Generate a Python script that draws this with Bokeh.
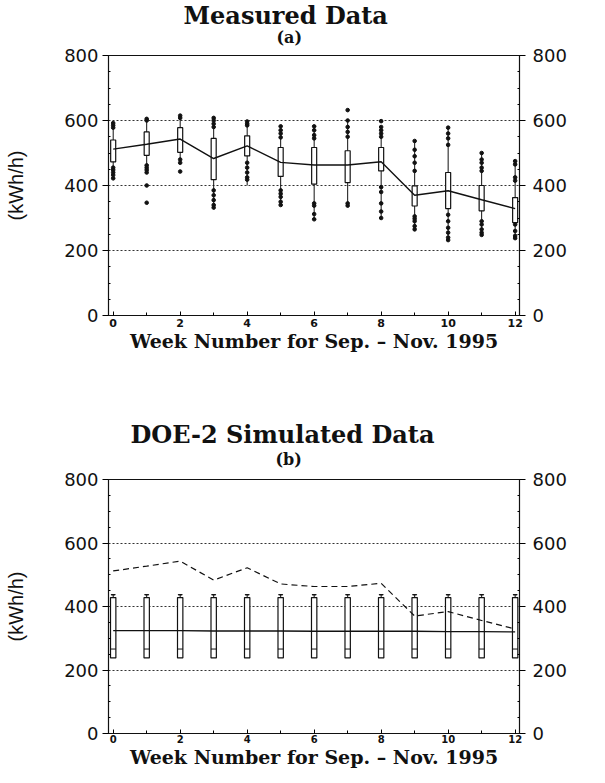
from bokeh.plotting import figure
from bokeh.models import Range1d, LinearAxis, FixedTicker, Title
from bokeh.layouts import column
from bokeh.embed import file_html
from bokeh.resources import INLINE

# ---------------- data ----------------
weeks = [0, 1, 2, 3, 4, 5, 6, 7, 8, 9, 10, 11, 12]

# measured hourly loads (kWh/h) per week
meas_median = [512, 527, 543, 483, 522, 471, 463, 463, 473, 370, 384, 356, 329]
meas_q1 = [473, 493, 502, 418, 491, 428, 404, 409, 445, 337, 329, 322, 286]
meas_q3 = [540, 565, 578, 545, 553, 517, 517, 507, 517, 399, 440, 400, 363]
meas_low = [430, 445, 466, 335, 400, 345, 300, 340, 300, 265, 235, 250, 240]
meas_high = [590, 605, 612, 605, 595, 580, 580, 600, 580, 535, 575, 500, 475]

out_week = ([0] * 8 + [1] * 8 + [2] * 5 + [3] * 9 + [4] * 8 + [5] * 9 + [6] * 8
            + [7] * 7 + [8] * 10 + [9] * 10 + [10] * 10 + [11] * 10 + [12] * 8)
out_val = [592, 585, 578, 455, 448, 440, 432, 422,
           605, 600, 462, 455, 448, 440, 400, 347,
           615, 608, 480, 470, 443,
           608, 600, 590, 580, 385, 370, 355, 340, 332,
           597, 590, 585, 470, 455, 440, 425, 418,
           582, 570, 560, 548, 385, 375, 365, 350, 340,
           582, 570, 555, 545, 345, 338, 312, 296,
           632, 600, 580, 565, 550, 345, 338,
           598, 580, 570, 560, 550, 395, 380, 345, 320, 300,
           537, 510, 490, 470, 445, 305, 298, 290, 275, 265,
           578, 560, 545, 525, 310, 290, 270, 255, 240, 232,
           500, 480, 470, 455, 445, 290, 280, 265, 255, 248,
           475, 465, 425, 415, 280, 260, 245, 238]

# DOE-2 simulated loads (kWh/h) per week
sim_median = [324, 324, 324, 323, 323, 323, 322, 322, 322, 322, 321, 321, 320]
sim_low = [238, 238, 238, 238, 238, 238, 238, 238, 238, 238, 238, 238, 238]
sim_inner = [266, 266, 266, 266, 266, 266, 266, 266, 266, 266, 266, 266, 266]
sim_top = [428, 428, 428, 428, 428, 428, 428, 428, 428, 428, 428, 428, 428]
sim_high = [437, 437, 437, 437, 437, 437, 437, 437, 437, 437, 437, 437, 437]

y_ticks = [0, 200, 400, 600, 800]
y_minor = [50, 100, 150, 250, 300, 350, 450, 500, 550, 650, 700, 750]
grid_ticks = [200, 400, 600]
x_major = [0, 2, 4, 6, 8, 10, 12]
x_minor = [1, 3, 5, 7, 9, 11]

x_label = "Week Number for Sep. \u2013 Nov. 1995"
y_label = "(kWh/h)"

INK = "#111111"
SERIF = "DejaVu Serif"
SANS = "DejaVu Sans"
FRAME_W = 411


def make_fig(title, title_off, sub, sub_off, sub_stand, main_stand,
             border_top, frame_h, border_bottom, xtick_size, xtick_standoff):
    p = figure(output_backend="svg", toolbar_location=None, title=None,
               frame_width=FRAME_W, frame_height=frame_h,
               min_border_left=108, min_border_right=60,
               min_border_top=border_top, min_border_bottom=border_bottom,
               x_range=Range1d(-0.14, 12.13), y_range=Range1d(0, 800))
    p.background_fill_color = "white"
    p.border_fill_color = "white"
    p.outline_line_color = INK
    p.outline_line_width = 1.2

    p.add_layout(Title(text=sub, align="left", offset=sub_off, standoff=sub_stand,
                       text_font=SERIF, text_font_size="16px",
                       text_font_style="bold", text_color=INK), "above")
    p.add_layout(Title(text=title, align="left", offset=title_off,
                       standoff=main_stand,
                       text_font=SERIF, text_font_size="24px",
                       text_font_style="bold", text_color=INK), "above")

    p.xgrid.visible = False
    p.ygrid.ticker = FixedTicker(ticks=grid_ticks)
    p.ygrid.grid_line_color = "#333333"
    p.ygrid.grid_line_dash = "2 2"
    p.ygrid.grid_line_width = 1

    xa = p.xaxis[0]
    xa.ticker = FixedTicker(ticks=x_major, minor_ticks=x_minor)
    xa.axis_line_color = INK
    xa.axis_line_width = 1.2
    xa.major_tick_in = 4
    xa.major_tick_out = 0
    xa.minor_tick_in = 3
    xa.minor_tick_out = 0
    xa.major_label_standoff = xtick_standoff
    xa.major_label_text_font = SANS
    xa.major_label_text_font_size = xtick_size
    xa.major_label_text_font_style = "bold"
    xa.major_label_text_color = INK
    xa.axis_label = x_label
    xa.axis_label_text_font = SERIF
    xa.axis_label_text_font_size = "19px"
    xa.axis_label_text_font_style = "bold"
    xa.axis_label_text_color = INK
    xa.axis_label_standoff = 0

    ya = p.yaxis[0]
    ya.ticker = FixedTicker(ticks=y_ticks, minor_ticks=y_minor)
    ya.axis_line_color = INK
    ya.major_tick_in = 0
    ya.major_tick_out = 6
    ya.minor_tick_in = 2
    ya.minor_tick_out = 0
    ya.major_label_standoff = 4
    ya.major_label_text_font = SANS
    ya.major_label_text_font_size = "18px"
    ya.major_label_text_color = INK
    ya.axis_label = y_label
    ya.axis_label_text_font = "Liberation Sans"
    ya.axis_label_text_font_size = "20px"
    ya.axis_label_text_font_style = "normal"
    ya.axis_label_text_color = INK
    ya.axis_label_standoff = 34

    ra = LinearAxis(ticker=FixedTicker(ticks=y_ticks, minor_ticks=y_minor))
    ra.axis_line_color = INK
    ra.major_tick_in = 0
    ra.major_tick_out = 6
    ra.minor_tick_in = 2
    ra.minor_tick_out = 0
    ra.major_label_standoff = 7
    ra.major_label_text_font = SANS
    ra.major_label_text_font_size = "18px"
    ra.major_label_text_color = INK
    p.add_layout(ra, "right")
    return p


# ---------- (a) measured ----------
p1 = make_fig("Measured Data", 75, "(a)", 168, 17, -25,
              55, 260, 75, "11px", 3)
p1.segment(x0=weeks, y0=meas_low, x1=weeks, y1=meas_high,
           line_color=INK, line_width=1)
p1.scatter(out_week, out_val, size=3.6, marker="circle",
           fill_color=INK, line_color=INK)
p1.vbar(x=weeks, width=0.15, bottom=meas_q1, top=meas_q3,
        fill_color="white", line_color=INK, line_width=1.2)
p1.line(weeks, meas_median, line_color=INK, line_width=1.4)

# ---------- (b) DOE-2 simulated ----------
p2 = make_fig("DOE-2 Simulated Data", 22, "(b)", 167, 22, -24,
              89, 254, 34, "10px", 1)
p2.segment(x0=weeks, y0=sim_top, x1=weeks, y1=sim_high,
           line_color=INK, line_width=1)
p2.rect(x=weeks, y=sim_high, width=0.12, height=1, line_color=INK,
        fill_color=INK)
p2.vbar(x=weeks, width=0.16, bottom=sim_low, top=sim_top,
        fill_color="white", line_color=INK, line_width=1.2)
p2.segment(x0=[w - 0.08 for w in weeks], y0=sim_inner,
           x1=[w + 0.08 for w in weeks], y1=sim_inner,
           line_color=INK, line_width=1)
p2.line(weeks, sim_median, line_color=INK, line_width=1.4)
p2.line(weeks, meas_median, line_color=INK, line_width=1.2, line_dash="6 4")

layout = column(p1, p2, spacing=0)

open("out.html", "w").write(file_html(layout, INLINE))
